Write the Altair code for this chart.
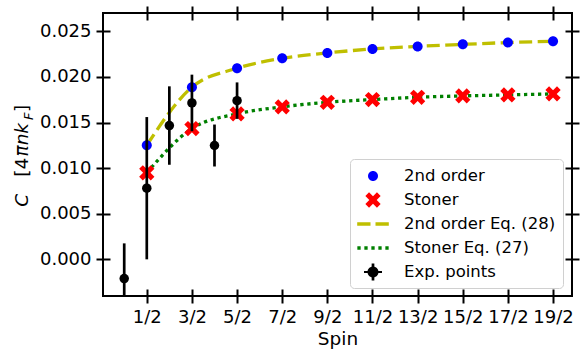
import altair as alt
import pandas as pd
import numpy as np

# ---------------- data ----------------
SPIN = [0.5, 1.5, 2.5, 3.5, 4.5, 5.5, 6.5, 7.5, 8.5, 9.5]
SECOND_ORDER = [0.01251, 0.01887, 0.02095, 0.02204, 0.02263, 0.02307, 0.02335, 0.02357, 0.02377, 0.02390]
STONER = [0.00949, 0.01434, 0.01595, 0.01672, 0.01722, 0.01752, 0.01777, 0.01792, 0.01803, 0.01814]

EXP_SPIN = [0.0, 0.5, 1.0, 1.5, 2.0, 2.5]
EXP_C = [-0.00211, 0.00780, 0.01467, 0.01715, 0.01248, 0.01740]
EXP_ERR = [0.00386, 0.00780, 0.00430, 0.00310, 0.00230, 0.00200]

XTICK_VALUES = [0.5, 1.5, 2.5, 3.5, 4.5, 5.5, 6.5, 7.5, 8.5, 9.5]
XTICK_LABELS = ["1/2", "3/2", "5/2", "7/2", "9/2", "11/2", "13/2", "15/2", "17/2", "19/2"]
YTICK_VALUES = [0.0, 0.005, 0.010, 0.015, 0.020, 0.025]

SERIES = ["2nd order", "Stoner", "2nd order Eq. (28)", "Stoner Eq. (27)", "Exp. points"]
COLORS = ["#0000ff", "#ff0000", "#bfbf00", "#008000", "#000000"]

X_TITLE = "Spin"
FONT = "DejaVu Sans"

# ---------------- marker shapes (unit square paths) ----------------
def circle_path(r, cx=0.0, cy=0.0):
    return (f"M{cx + r:.3f},{cy:.3f}A{r:.3f},{r:.3f},0,1,1,{cx - r:.3f},{cy:.3f}"
            f"A{r:.3f},{r:.3f},0,1,1,{cx + r:.3f},{cy:.3f}Z")

def rect_path(x0, x1, y0, y1):
    return f"M{x0:.3f},{y0:.3f}H{x1:.3f}V{y1:.3f}H{x0:.3f}Z"

def x_path(L, t):
    plus = [(t, -L), (t, -t), (L, -t), (L, t), (t, t), (t, L),
            (-t, L), (-t, t), (-L, t), (-L, -t), (-t, -t), (-t, -L)]
    s = np.sqrt(0.5)
    pts = [((x - y) * s, (x + y) * s) for x, y in plus]
    return "M" + "L".join(f"{x:.3f},{y:.3f}" for x, y in pts) + "Z"

dash_path = rect_path(-1.58, -0.25, -0.165, 0.165) + rect_path(0.25, 1.58, -0.165, 0.165)
dot_path = "".join(rect_path(-1.565 + i * 0.70, -1.565 + i * 0.70 + 0.33, -0.165, 0.165) for i in range(5))
err_path = (circle_path(0.55) + rect_path(-0.135, 0.135, -0.85, 0.85)
            + rect_path(-0.9, 0.9, -0.1, 0.1))
SHAPES = [circle_path(0.5), x_path(0.82, 0.26), dash_path, dot_path, err_path]

# ---------------- tables ----------------
pts = pd.DataFrame({
    "spin": SPIN + SPIN,
    "c": SECOND_ORDER + STONER,
    "series": [SERIES[0]] * len(SPIN) + [SERIES[1]] * len(SPIN),
})
line2 = pd.DataFrame({"spin": SPIN, "c": SECOND_ORDER})
lineS = pd.DataFrame({"spin": SPIN, "c": STONER})
exp = pd.DataFrame({"spin": EXP_SPIN, "c": EXP_C, "err": EXP_ERR})
exp["lo"] = exp["c"] - exp["err"]
exp["hi"] = exp["c"] + exp["err"]

# ---------------- scales & axes ----------------
xs = alt.Scale(domain=[-0.47, 9.92], nice=False, zero=False)
ys = alt.Scale(domain=[-0.00402, 0.02701], nice=False, zero=False)

lab_arr = "[" + ",".join(f"'{l}'" for l in XTICK_LABELS) + "]"
val_arr = "[" + ",".join(str(v) for v in XTICK_VALUES) + "]"
label_expr = f"{lab_arr}[indexof({val_arr}, datum.value)]"

common = dict(tickSize=14, tickWidth=2, tickColor="black", offset=-7, domain=False,
              grid=False, labelFlush=False, labelOverlap=False)

ax_bottom = alt.Axis(orient="bottom", values=XTICK_VALUES, labelExpr=label_expr,
                     labelFontSize=18, labelFont=FONT, labelColor="black", labelPadding=5,
                     title=X_TITLE, titleFont=FONT, titleFontSize=18.5, titleFontWeight="normal",
                     titleColor="black", titlePadding=3, **common)
ax_top = alt.Axis(orient="top", values=XTICK_VALUES, labels=False, title=None, **common)
ax_left = alt.Axis(orient="left", values=YTICK_VALUES, format=".3f",
                   labelFontSize=18, labelFont=FONT, labelColor="black", labelPadding=5,
                   title=None, **common)
ax_right = alt.Axis(orient="right", values=YTICK_VALUES, labels=False, title=None, **common)

legend = alt.Legend(title=None, orient="none", legendX=247, legendY=146,
                    symbolSize=400, symbolStrokeWidth=0, symbolOffset=6,
                    labelFont=FONT, labelFontSize=16.5, labelColor="black", labelOffset=21,
                    padding=7, rowPadding=5, strokeColor="#d0d0d0", fillColor="white",
                    cornerRadius=4)

# ---------------- layers ----------------
l_line2 = alt.Chart(line2).mark_line(color=COLORS[2], strokeWidth=3.3, strokeDash=[13, 5.5],
                                     interpolate="monotone").encode(
    x=alt.X("spin:Q", scale=xs, axis=ax_bottom),
    y=alt.Y("c:Q", scale=ys, axis=ax_left),
)
l_lineS = alt.Chart(lineS).mark_line(color=COLORS[3], strokeWidth=3.3, strokeDash=[3.3, 3.7],
                                     interpolate="monotone").encode(
    x=alt.X("spin:Q", scale=xs, axis=None),
    y=alt.Y("c:Q", scale=ys, axis=None),
)
l_pts = alt.Chart(pts).mark_point(filled=True, size=400, opacity=1, strokeWidth=0).encode(
    x=alt.X("spin:Q", scale=xs, axis=ax_top),
    y=alt.Y("c:Q", scale=ys, axis=ax_right),
    shape=alt.Shape("series:N", scale=alt.Scale(domain=SERIES, range=SHAPES), legend=legend),
    color=alt.Color("series:N", scale=alt.Scale(domain=SERIES, range=COLORS), legend=legend),
)
l_err = alt.Chart(exp).mark_rule(color="black", strokeWidth=2.7, clip=True).encode(
    x=alt.X("spin:Q", scale=xs, axis=None),
    y=alt.Y("lo:Q", scale=ys, axis=None),
    y2="hi:Q",
)
l_exp = alt.Chart(exp).mark_circle(color="black", size=90, opacity=1).encode(
    x=alt.X("spin:Q", scale=xs, axis=None),
    y=alt.Y("c:Q", scale=ys, axis=None),
)

# y-axis title pieces: C  [4 pi n k _F ]
TITLE_PIECES = [
    ("C", "italic", 18.5, -74.7, 193.7),
    ("[4", "normal", 18.5, -74.7, 163.7),
    ("πnk", "italic", 18.5, -74.7, 143.5),
    ("F", "italic", 13, -70.5, 107.0),
    ("]", "normal", 18.5, -74.7, 99.0),
]
title_layers = []
for txt, style, fs, tx, ty in TITLE_PIECES:
    title_layers.append(
        alt.Chart(pd.DataFrame({"t": [txt]})).mark_text(
            angle=270, align="left", baseline="alphabetic", font=FONT, fontSize=fs,
            fontStyle=style, color="black"
        ).encode(text="t:N", x=alt.value(tx), y=alt.value(ty))
    )

chart = alt.layer(l_line2, l_lineS, l_pts, l_err, l_exp, *title_layers).resolve_axis(
    x="independent", y="independent"
).properties(
    width=469, height=283,
    padding={"left": 103, "top": 13, "right": 8, "bottom": 55},
    autosize=alt.AutoSizeParams(type="none"),
).configure_view(stroke="black", strokeWidth=2)

chart.save("out.html", embed_options={"renderer": "svg", "actions": False})
